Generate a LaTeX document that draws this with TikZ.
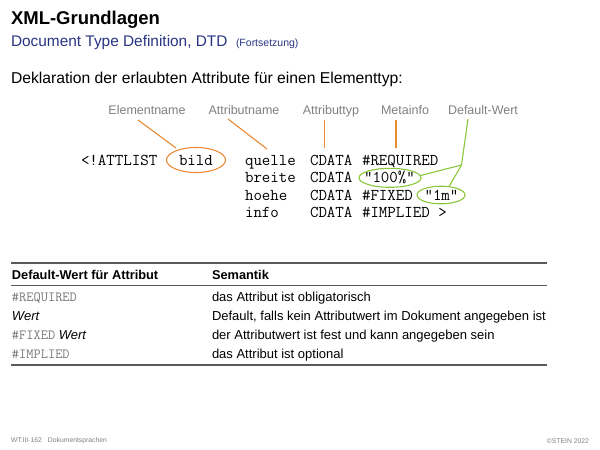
\documentclass[tikz,border=0pt]{standalone}
\usepackage{fontspec}
\setmainfont{Liberation Sans}
\setsansfont{Liberation Sans}
\usetikzlibrary{calc}
\definecolor{subblue}{RGB}{40,52,130}
\definecolor{orng}{RGB}{232,138,52}
\definecolor{grn}{RGB}{140,198,60}
\definecolor{lblgray}{RGB}{128,128,128}
\definecolor{ttgray}{RGB}{120,120,120}
\definecolor{rulegray}{RGB}{90,90,90}
\begin{document}
\begin{tikzpicture}[x=1pt,y=-1pt,
  every node/.style={inner sep=0pt, outer sep=0pt},
  lbl/.style={font=\fontsize{12.5}{14}\selectfont, text=lblgray, anchor=base},
  code/.style={font=\fontsize{16.5}{18}\ttfamily, anchor=base west},
  tab/.style={font=\fontsize{13}{15}\selectfont, anchor=base west},
  tabtt/.style={font=\fontsize{14}{15}\ttfamily, text=ttgray, anchor=base west},
  oline/.style={draw=orng, line width=1.1pt},
  gline/.style={draw=grn, line width=1.1pt},
  foot/.style={font=\fontsize{6.8}{8}\selectfont, text=lblgray}]
\useasboundingbox (0,0) rectangle (600,450);
% titles
\node[anchor=base west, font=\fontsize{18.5}{20}\selectfont\bfseries] (title) at (11,24) {XML-Grundlagen};
\node[anchor=base west, font=\fontsize{15.4}{17}\selectfont, text=subblue] (sub) at (11,46.5) {Document Type Definition, DTD};
\node[anchor=base west, font=\fontsize{10.5}{12}\selectfont, text=subblue] (fort) at (236,46.5) {(Fortsetzung)};
\node[anchor=base west, font=\fontsize{15.7}{17}\selectfont] (dekl) at (11,83) {Deklaration der erlaubten Attribute für einen Elementtyp:};
% labels
\node[lbl] (lelem) at (147,114.5) {Elementname};
\node[lbl] (lattr) at (244,114.5) {Attributname};
\node[lbl] (ltyp) at (331,114.5) {Attributtyp};
\node[lbl] (lmeta) at (405,114.5) {Metainfo};
\node[lbl] (ldef) at (483,114.5) {Default-Wert};
% code
\node[code] (attlist) at (81,165) {<!ATTLIST};
\node[code] (bild) at (179,165) {bild};
\node[code] (quelle) at (245,165) {quelle};
\node[code] (c1) at (310,165) {CDATA};
\node[code] (req) at (362,165) {\#REQUIRED};
\node[code] (breite) at (245,182.5) {breite};
\node[code] (c2) at (310,182.5) {CDATA};
\node[code] (hundert) at (364,182.5) {"100\%"};
\node[code] (hoehe) at (245,200) {hoehe};
\node[code] (c3) at (310,200) {CDATA};
\node[code] (fixed) at (362,200) {\#FIXED};
\node[code] (onem) at (424.5,200) {"1m"};
\node[code] (info) at (245,217.5) {info};
\node[code] (c4) at (310,217.5) {CDATA};
\node[code] (impl) at (362,217.5) {\#IMPLIED >};
% ellipses
\draw[oline] (196,160) ellipse [x radius=29.5, y radius=12.5];
\node (ebild) at (196,160) [minimum width=59pt, minimum height=25pt] {};
\draw[gline] (390,177.8) ellipse [x radius=31, y radius=9.5];
\node (ehund) at (390,177.8) [minimum width=62pt, minimum height=19pt] {};
\draw[gline] (441,195) ellipse [x radius=24, y radius=8.8];
\node (eonem) at (441,195) [minimum width=48pt, minimum height=17.6pt] {};
% connectors
\coordinate (pe1) at (138,120);
\coordinate (pe2) at (176,148);
\draw[oline] (pe1) -- (pe2);
\coordinate (pa1) at (228,119);
\coordinate (pa2) at (267,149);
\draw[oline] (pa1) -- (pa2);
\coordinate (pt1) at (324.5,120);
\coordinate (pt2) at (324.5,148);
\draw[oline] (pt1) -- (pt2);
\coordinate (pm1) at (396,120);
\coordinate (pm2) at (396,148);
\draw[oline] (pm1) -- (pm2);
\coordinate (pd1) at (468,119);
\coordinate (pd2) at (461.5,165);
\coordinate (pd3) at (420.3,175.6);
\coordinate (pd4) at (449,186.6);
\draw[gline] (pd1) -- (pd2) -- (pd3);
\draw[gline] (pd2) -- (pd4);
% table
\coordinate (tl1) at (11,263);
\coordinate (tr1) at (547,263);
\coordinate (tl2) at (11,285);
\coordinate (tr2) at (547,285);
\coordinate (tl3) at (11,365);
\coordinate (tr3) at (547,365);
\draw[rulegray, line width=1.3pt] (tl1) -- (tr1);
\draw[rulegray, line width=0.6pt] (tl2) -- (tr2);
\draw[rulegray, line width=1.3pt] (tl3) -- (tr3);
\node[tab, font=\fontsize{12.8}{15}\selectfont\bfseries] (h1) at (12,279) {Default-Wert für Attribut};
\node[tab, font=\fontsize{12.8}{15}\selectfont\bfseries] (h2) at (212,279) {Semantik};
\node[tabtt] (r1a) at (12,301) {\#REQUIRED};
\node[tab] (r1b) at (212,301) {das Attribut ist obligatorisch};
\node[tab] (r2a) at (12,320) {\itshape Wert};
\node[tab] (r2b) at (212,320) {Default, falls kein Attributwert im Dokument angegeben ist};
\node[tab] (r3a) at (12,339) {\textcolor{ttgray}{\ttfamily\fontsize{14}{15}\selectfont\#FIXED} \itshape Wert};
\node[tab] (r3b) at (212,339) {der Attributwert ist fest und kann angegeben sein};
\node[tabtt] (r4a) at (12,358) {\#IMPLIED};
\node[tab] (r4b) at (212,358) {das Attribut ist optional};
% footer
\node[foot, anchor=west] (f1) at (11,441) {WT:III-162\hspace{6pt}Dokumentsprachen};
\node[foot, anchor=east] (f2) at (589,441) {©STEIN 2022};
\end{tikzpicture}
\end{document}
